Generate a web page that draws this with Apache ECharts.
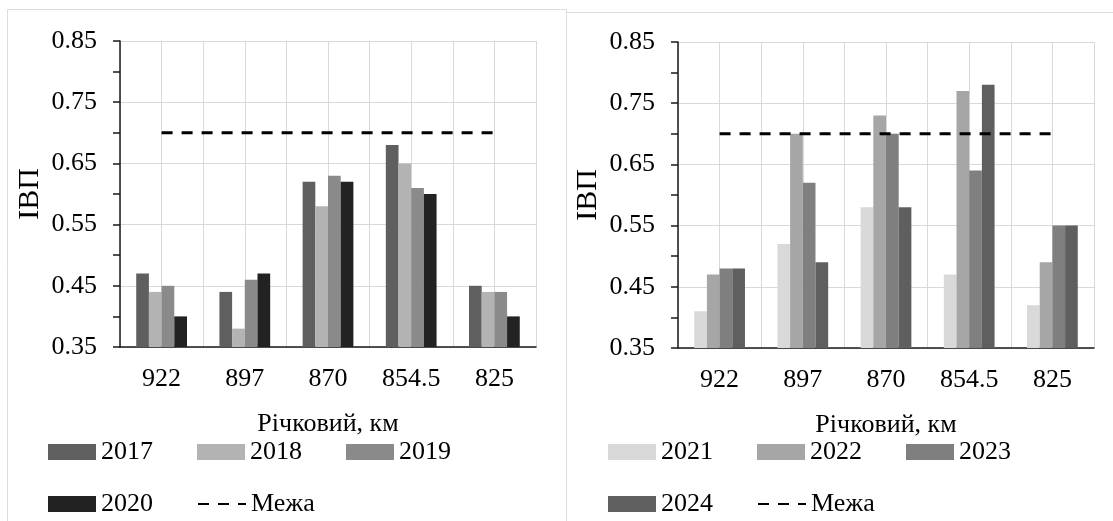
<!DOCTYPE html>
<html>
<head>
<meta charset="utf-8">
<script src="https://cdn.jsdelivr.net/npm/echarts@6/dist/echarts.min.js"></script>
<style>
  html, body { margin: 0; padding: 0; background: #fff; }
  #chart { width: 1113px; height: 521px; }
</style>
</head>
<body>
<div id="chart"></div>
<script>
// categories (river km)
const categories = ['922', '897', '870', '854.5', '825']

// left panel 2017-2020
const yearsLeft = ['2017', '2018', '2019', '2020']
const v2017 = [0.47, 0.44, 0.62, 0.68, 0.45]
const v2018 = [0.44, 0.38, 0.58, 0.65, 0.44]
const v2019 = [0.45, 0.46, 0.63, 0.61, 0.44]
const v2020 = [0.40, 0.47, 0.62, 0.60, 0.40]

// right panel 2021-2024
const yearsRight = ['2021', '2022', '2023', '2024']
const v2021 = [0.41, 0.52, 0.58, 0.47, 0.42]
const v2022 = [0.47, 0.70, 0.73, 0.77, 0.49]
const v2023 = [0.48, 0.62, 0.70, 0.64, 0.55]
const v2024 = [0.48, 0.49, 0.58, 0.78, 0.55]

// threshold line
const limitName = 'Межа'
const limit = [0.70, 0.70, 0.70, 0.70, 0.70]

// y axis
const yMin = 0.35
const yMax = 0.85
const yStep = 0.1

const colorsLeft = ['#5f5f5f', '#b3b3b3', '#8a8a8a', '#222222']
const colorsRight = ['#d9d9d9', '#a6a6a6', '#7f7f7f', '#5f5f5f']

const FONT = "'Liberation Serif', 'Times New Roman', serif"
const gridColor = '#d9d9d9'
const axisColor = '#1a1a1a'

const chart = echarts.init(document.getElementById('chart'))

function catAxis(gi) {
  return {
    type: 'category',
    gridIndex: gi,
    data: categories,
    axisLine: { lineStyle: { color: axisColor, width: 1.5 } },
    axisTick: { length: 8, lineStyle: { color: axisColor, width: 1.5 } },
    axisLabel: { fontFamily: FONT, fontSize: 26, color: '#000', margin: 19 },
    splitLine: { show: false },
    name: 'Річковий, км',
    nameLocation: 'middle',
    nameGap: 64,
    nameTextStyle: { fontFamily: FONT, fontSize: 26, color: '#000' }
  }
}

// helper axis only for the vertical gridlines at every half band
function gridAxis(gi) {
  return {
    type: 'value',
    gridIndex: gi,
    position: 'top',
    min: 0,
    max: 10,
    interval: 1,
    axisLine: { show: false },
    axisTick: { show: false },
    axisLabel: { show: false },
    splitLine: { lineStyle: { color: gridColor, width: 1 } }
  }
}

function valAxis(gi, gap) {
  return {
    type: 'value',
    gridIndex: gi,
    min: yMin,
    max: yMax,
    interval: yStep,
    axisLine: { show: true, lineStyle: { color: axisColor, width: 1.5 } },
    axisTick: { show: true, length: 7, lineStyle: { color: axisColor, width: 1.5 } },
    minorTick: { show: true, splitNumber: 2, length: 7, lineStyle: { color: axisColor, width: 1.5 } },
    axisLabel: {
      fontFamily: FONT, fontSize: 26, color: '#000', margin: 23,
      formatter: v => v.toFixed(2)
    },
    splitLine: { lineStyle: { color: gridColor, width: 1 } },
    name: 'ІВП',
    nameLocation: 'middle',
    nameGap: gap,
    nameTextStyle: { fontFamily: FONT, fontSize: 30, color: '#000' }
  }
}

function barSeries(name, data, color, xi, yi) {
  return {
    name: name,
    type: 'bar',
    xAxisIndex: xi,
    yAxisIndex: yi,
    data: data,
    barGap: 0,
    barCategoryGap: '39%',
    itemStyle: { color: color },
    emphasis: { disabled: true }
  }
}

function limitSeries(xi, yi) {
  return {
    name: limitName,
    type: 'line',
    xAxisIndex: xi,
    yAxisIndex: yi,
    data: limit,
    symbol: 'none',
    z: 5,
    lineStyle: { color: '#000', width: 3, type: [11, 9] },
    itemStyle: { color: '#000' },
    emphasis: { disabled: true }
  }
}

function legendRow(items, left, top) {
  return {
    data: items,
    left: left,
    top: top,
    orient: 'horizontal',
    itemWidth: 48,
    itemHeight: 16,
    itemGap: 44,
    padding: 0,
    selectedMode: false,
    textStyle: { fontFamily: FONT, fontSize: 26, color: '#000' }
  }
}

const rect = n => ({ name: n, icon: 'rect' })
// dashed line only, no marker in the legend
const limitItem = { name: limitName, itemStyle: { color: 'transparent', borderWidth: 0, opacity: 0 } }

const option = {
  animation: false,
  backgroundColor: '#fff',
  grid: [
    { left: 120, top: 41, width: 416, height: 306 },
    { left: 678, top: 42, width: 416, height: 306 }
  ],
  xAxis: [catAxis(0), catAxis(1), gridAxis(0), gridAxis(1)],
  yAxis: [valAxis(0, 75), valAxis(1, 75)],
  legend: [
    legendRow(yearsLeft.slice(0, 3).map(rect), 48, 439),
    legendRow([rect(yearsLeft[3]), limitItem], 48, 491),
    legendRow(yearsRight.slice(0, 3).map(rect), 608, 439),
    legendRow([rect(yearsRight[3]), limitItem], 608, 491)
  ],
  graphic: [
    { type: 'line', shape: { x1: 7.5, y1: 9.5, x2: 7.5, y2: 521 }, style: { stroke: '#dcdcdc', lineWidth: 1 } },
    { type: 'line', shape: { x1: 7.5, y1: 9.5, x2: 566.5, y2: 9.5 }, style: { stroke: '#dcdcdc', lineWidth: 1 } },
    { type: 'line', shape: { x1: 566.5, y1: 9.5, x2: 566.5, y2: 521 }, style: { stroke: '#dcdcdc', lineWidth: 1 } },
    { type: 'line', shape: { x1: 566.5, y1: 12.5, x2: 1113, y2: 12.5 }, style: { stroke: '#dcdcdc', lineWidth: 1 } }
  ],
  series: [
    barSeries(yearsLeft[0], v2017, colorsLeft[0], 0, 0),
    barSeries(yearsLeft[1], v2018, colorsLeft[1], 0, 0),
    barSeries(yearsLeft[2], v2019, colorsLeft[2], 0, 0),
    barSeries(yearsLeft[3], v2020, colorsLeft[3], 0, 0),
    limitSeries(0, 0),
    barSeries(yearsRight[0], v2021, colorsRight[0], 1, 1),
    barSeries(yearsRight[1], v2022, colorsRight[1], 1, 1),
    barSeries(yearsRight[2], v2023, colorsRight[2], 1, 1),
    barSeries(yearsRight[3], v2024, colorsRight[3], 1, 1),
    limitSeries(1, 1)
  ]
}

chart.setOption(option)
window.addEventListener('resize', chart.resize)
</script>
</body>
</html>
